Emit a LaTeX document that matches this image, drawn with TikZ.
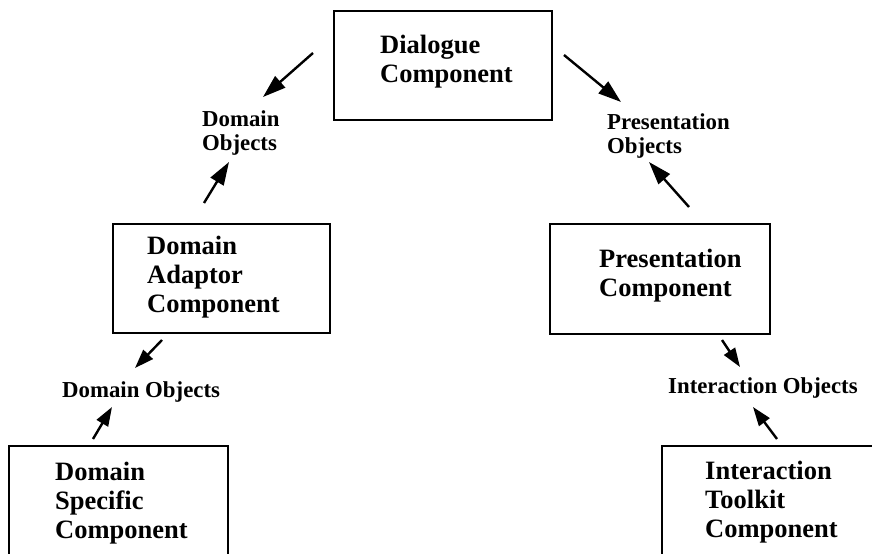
\documentclass[tikz,border=0pt]{standalone}
\usepackage{fontspec}
\setmainfont{Liberation Serif}
\usetikzlibrary{arrows.meta,positioning}

\tikzset{
  comp/.style={draw,line width=2.8bp,inner sep=0pt},
  comptext/.style={font=\fontsize{26.6}{29.1}\selectfont\bfseries,align=left,inner sep=0pt,anchor=north west},
  objlabel/.style={font=\fontsize{22.9}{24.1}\selectfont\bfseries,align=left,inner sep=0pt,anchor=north west},
  flow/.style={-{Triangle[length=23bp,width=15bp]},line width=2.4bp},
  shortflow/.style={-{Triangle[length=19bp,width=13bp]},line width=2.4bp}
}

\begin{document}
\begin{tikzpicture}[x=1bp,y=-1bp]
\clip (0,0) rectangle (872,554);

% component boxes
\node[comp,minimum width=218bp,minimum height=109bp] (dialogue) at (443,65.5) {};
\node[comp,minimum width=217bp,minimum height=109bp] (adaptor) at (221.5,278.5) {};
\node[comp,minimum width=220bp,minimum height=110bp] (presentation) at (660,279) {};
\node[comp,minimum width=219bp,minimum height=154bp] (specific) at (118.5,523) {};
\node[comp,minimum width=240bp,minimum height=154bp] (toolkit) at (782,523) {};

\node[comptext] (dialoguetxt) at (380,35) {Dialogue\\Component};
\node[comptext] (adaptortxt) at (147,236) {Domain\\Adaptor\\Component};
\node[comptext] (presentationtxt) at (599,249) {Presentation\\Component};
\node[comptext] (specifictxt) at (55,462) {Domain\\Specific\\Component};
\node[comptext] (toolkittxt) at (705,461) {Interaction\\Toolkit\\Component};

% object labels
\node[objlabel] (domobjtop) at (202,110) {Domain\\Objects};
\node[objlabel] (presobj) at (607,113.5) {Presentation\\Objects};
\node[objlabel] (domobjlow) at (62,381) {Domain Objects};
\node[objlabel] (interobj) at (668,377) {Interaction Objects};

% arrow ends
\coordinate (dlgL) at (313,53);   \coordinate (domobjTR) at (263,97);
\coordinate (adpT) at (204,203);  \coordinate (domobjB) at (229,162);
\coordinate (dlgR) at (564,55);   \coordinate (presobjTL) at (621,102);
\coordinate (presT) at (689,207); \coordinate (presobjB) at (649,162);
\coordinate (adpB) at (162,340);  \coordinate (domlowT) at (135,368);
\coordinate (specT) at (93,439);  \coordinate (domlowB) at (112,407);
\coordinate (presB) at (722,340); \coordinate (interT) at (740,367);
\coordinate (toolT) at (777,439); \coordinate (interB) at (753,407);

\draw[flow] (dlgL) -- (domobjTR);
\draw[flow] (adpT) -- (domobjB);
\draw[flow] (dlgR) -- (presobjTL);
\draw[flow] (presT) -- (presobjB);
\draw[shortflow] (adpB) -- (domlowT);
\draw[shortflow] (specT) -- (domlowB);
\draw[shortflow] (presB) -- (interT);
\draw[shortflow] (toolT) -- (interB);
\end{tikzpicture}
\end{document}
